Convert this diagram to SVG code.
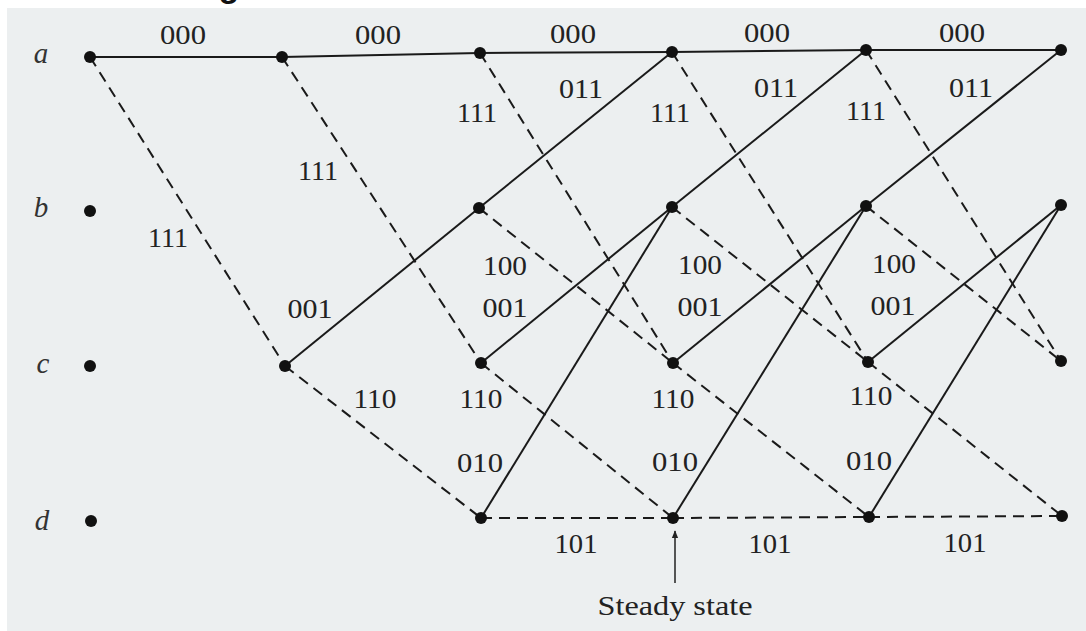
<svg xmlns="http://www.w3.org/2000/svg" width="1086" height="631" viewBox="0 0 1086 631">
<defs>
<style>
.bg{fill:#eceff0}
.s{stroke:#1a1a1a;stroke-width:2;fill:none}
.d{stroke:#1a1a1a;stroke-width:2;fill:none;stroke-dasharray:11 7}
.n{fill:#111}
.lb{font-family:"Liberation Serif","Times New Roman",serif;font-size:26.5px;fill:#222;text-anchor:middle}
.st{font-family:"Liberation Serif","Times New Roman",serif;font-size:29px;font-style:italic;fill:#333;text-anchor:middle}
.cap{font-family:"Liberation Serif","Times New Roman",serif;font-size:27px;fill:#222;text-anchor:middle}
</style>
<marker id="ah" viewBox="0 0 10 10" refX="9" refY="5" markerWidth="8" markerHeight="8" orient="auto" markerUnits="userSpaceOnUse">
<path d="M0,1 L10,5 L0,9 z" fill="#222"/>
</marker>
</defs>
<rect x="0" y="0" width="1086" height="631" fill="#ffffff"/>
<rect class="bg" x="7" y="8" width="1079" height="623"/>
<text x="229" y="-3" font-family="Liberation Sans, Arial, sans-serif" font-size="34" font-weight="bold" fill="#111" text-anchor="middle">g</text>

<g id="connectors">
<!-- step 0 -->
<line class="s" x1="90" y1="57" x2="282" y2="57"/>
<line class="d" x1="90" y1="57" x2="285" y2="366"/>
<!-- step 1 -->
<line class="s" x1="282" y1="57" x2="480" y2="53"/>
<line class="d" x1="282" y1="57" x2="481" y2="363"/>
<line class="s" x1="285" y1="366" x2="479" y2="208"/>
<line class="d" x1="285" y1="366" x2="481" y2="518"/>
<!-- step 2 -->
<line class="s" x1="480" y1="53" x2="672" y2="52"/>
<line class="d" x1="480" y1="53" x2="673" y2="363"/>
<line class="s" x1="479" y1="208" x2="672" y2="52"/>
<line class="d" x1="479" y1="208" x2="673" y2="363"/>
<line class="s" x1="481" y1="363" x2="672" y2="207"/>
<line class="d" x1="481" y1="363" x2="673" y2="518"/>
<line class="s" x1="481" y1="518" x2="672" y2="207"/>
<line class="d" x1="481" y1="518" x2="673" y2="518"/>
<!-- step 3 -->
<line class="s" x1="672" y1="52" x2="866" y2="50"/>
<line class="d" x1="672" y1="52" x2="868" y2="362"/>
<line class="s" x1="672" y1="207" x2="866" y2="50"/>
<line class="d" x1="672" y1="207" x2="868" y2="362"/>
<line class="s" x1="673" y1="363" x2="866" y2="206"/>
<line class="d" x1="673" y1="363" x2="869" y2="517"/>
<line class="s" x1="673" y1="518" x2="866" y2="206"/>
<line class="d" x1="673" y1="518" x2="869" y2="517"/>
<!-- step 4 -->
<line class="s" x1="866" y1="50" x2="1061" y2="50"/>
<line class="d" x1="866" y1="50" x2="1061" y2="361"/>
<line class="s" x1="866" y1="206" x2="1061" y2="50"/>
<line class="d" x1="866" y1="206" x2="1061" y2="361"/>
<line class="s" x1="868" y1="362" x2="1061" y2="205"/>
<line class="d" x1="868" y1="362" x2="1062" y2="516"/>
<line class="s" x1="869" y1="517" x2="1061" y2="205"/>
<line class="d" x1="869" y1="517" x2="1062" y2="516"/>
<!-- steady state arrow -->
<line stroke="#222" stroke-width="1.5" x1="675" y1="583" x2="675" y2="531" marker-end="url(#ah)"/>
</g>

<g id="edge-labels">
<text class="lb" x="183" y="44" textLength="46" lengthAdjust="spacingAndGlyphs">000</text>
<text class="lb" x="378" y="44" textLength="46" lengthAdjust="spacingAndGlyphs">000</text>
<text class="lb" x="573" y="43" textLength="46" lengthAdjust="spacingAndGlyphs">000</text>
<text class="lb" x="767" y="42" textLength="46" lengthAdjust="spacingAndGlyphs">000</text>
<text class="lb" x="962" y="42" textLength="46" lengthAdjust="spacingAndGlyphs">000</text>
<text class="lb" x="168" y="247" textLength="40" lengthAdjust="spacingAndGlyphs">111</text>
<text class="lb" x="318" y="180" textLength="40" lengthAdjust="spacingAndGlyphs">111</text>
<text class="lb" x="477" y="122" textLength="40" lengthAdjust="spacingAndGlyphs">111</text>
<text class="lb" x="670" y="122" textLength="40" lengthAdjust="spacingAndGlyphs">111</text>
<text class="lb" x="866" y="120" textLength="40" lengthAdjust="spacingAndGlyphs">111</text>
<text class="lb" x="581" y="98" textLength="44" lengthAdjust="spacingAndGlyphs">011</text>
<text class="lb" x="776" y="97" textLength="44" lengthAdjust="spacingAndGlyphs">011</text>
<text class="lb" x="971" y="97" textLength="44" lengthAdjust="spacingAndGlyphs">011</text>
<text class="lb" x="505" y="275" textLength="44" lengthAdjust="spacingAndGlyphs">100</text>
<text class="lb" x="700" y="274" textLength="44" lengthAdjust="spacingAndGlyphs">100</text>
<text class="lb" x="894" y="273" textLength="44" lengthAdjust="spacingAndGlyphs">100</text>
<text class="lb" x="310" y="318" textLength="45" lengthAdjust="spacingAndGlyphs">001</text>
<text class="lb" x="505" y="317" textLength="45" lengthAdjust="spacingAndGlyphs">001</text>
<text class="lb" x="700" y="316" textLength="45" lengthAdjust="spacingAndGlyphs">001</text>
<text class="lb" x="893" y="315" textLength="45" lengthAdjust="spacingAndGlyphs">001</text>
<text class="lb" x="375" y="408" textLength="43" lengthAdjust="spacingAndGlyphs">110</text>
<text class="lb" x="481" y="408" textLength="43" lengthAdjust="spacingAndGlyphs">110</text>
<text class="lb" x="673" y="408" textLength="43" lengthAdjust="spacingAndGlyphs">110</text>
<text class="lb" x="871" y="405" textLength="43" lengthAdjust="spacingAndGlyphs">110</text>
<text class="lb" x="480" y="472" textLength="46" lengthAdjust="spacingAndGlyphs">010</text>
<text class="lb" x="675" y="471" textLength="46" lengthAdjust="spacingAndGlyphs">010</text>
<text class="lb" x="869" y="470" textLength="46" lengthAdjust="spacingAndGlyphs">010</text>
<text class="lb" x="576" y="553" textLength="43" lengthAdjust="spacingAndGlyphs">101</text>
<text class="lb" x="770" y="553" textLength="43" lengthAdjust="spacingAndGlyphs">101</text>
<text class="lb" x="965" y="552" textLength="43" lengthAdjust="spacingAndGlyphs">101</text>
</g>

<g id="state-labels">
<text class="st" x="41" y="63">a</text>
<text class="st" x="41" y="217">b</text>
<text class="st" x="43" y="373">c</text>
<text class="st" x="42" y="530">d</text>
</g>

<g id="nodes">
<g id="a0"><circle class="n" cx="90" cy="57" r="6"/></g>
<g id="a1"><circle class="n" cx="282" cy="57" r="6"/></g>
<g id="a2"><circle class="n" cx="480" cy="53" r="6"/></g>
<g id="a3"><circle class="n" cx="672" cy="52" r="6"/></g>
<g id="a4"><circle class="n" cx="866" cy="50" r="6"/></g>
<g id="a5"><circle class="n" cx="1061" cy="50" r="6"/></g>
<g id="b0"><circle class="n" cx="90" cy="211" r="6"/></g>
<g id="b2"><circle class="n" cx="479" cy="208" r="6"/></g>
<g id="b3"><circle class="n" cx="672" cy="207" r="6"/></g>
<g id="b4"><circle class="n" cx="866" cy="206" r="6"/></g>
<g id="b5"><circle class="n" cx="1061" cy="205" r="6"/></g>
<g id="c0"><circle class="n" cx="90" cy="366" r="6"/></g>
<g id="c1"><circle class="n" cx="285" cy="366" r="6"/></g>
<g id="c2"><circle class="n" cx="481" cy="363" r="6"/></g>
<g id="c3"><circle class="n" cx="673" cy="363" r="6"/></g>
<g id="c4"><circle class="n" cx="868" cy="362" r="6"/></g>
<g id="c5"><circle class="n" cx="1061" cy="361" r="6"/></g>
<g id="d0"><circle class="n" cx="91" cy="521" r="6"/></g>
<g id="d2"><circle class="n" cx="481" cy="518" r="6"/></g>
<g id="d3"><circle class="n" cx="673" cy="518" r="6"/></g>
<g id="d4"><circle class="n" cx="869" cy="517" r="6"/></g>
<g id="d5"><circle class="n" cx="1062" cy="516" r="6"/></g>
</g>

<g id="caption">
<text class="cap" x="675" y="615" textLength="155" lengthAdjust="spacingAndGlyphs">Steady state</text>
</g>
</svg>
